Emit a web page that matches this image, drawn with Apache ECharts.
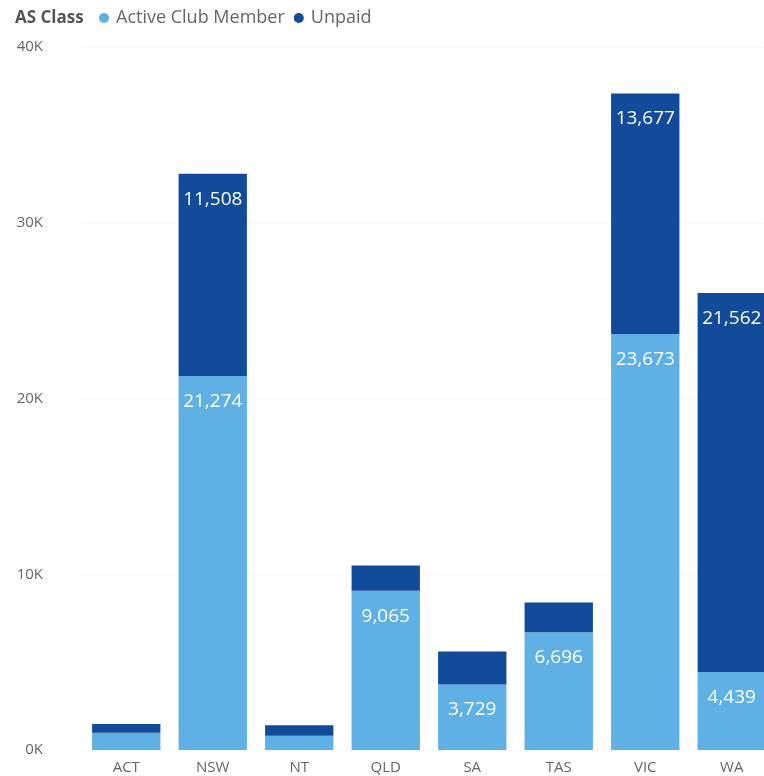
<!DOCTYPE html>
<html>
<head>
<meta charset="utf-8">
<script src="https://cdn.jsdelivr.net/npm/echarts@6/dist/echarts.min.js"></script>
<style>html,body{margin:0;padding:0;background:#fff;overflow:hidden;}#c{width:775px;height:776px;}</style>
</head>
<body>
<div id="c"></div>
<script>
const categories = ['ACT', 'NSW', 'NT', 'QLD', 'SA', 'TAS', 'VIC', 'WA'];
const activeClubMember = [985, 21274, 815, 9065, 3729, 6696, 23673, 4439];
const unpaid = [500, 11508, 590, 1435, 1870, 1700, 13677, 21562];
const yTicks = [0, 10000, 20000, 30000, 40000];

const FONT = '"Open Sans", "Noto Sans", sans-serif';
const chart = echarts.init(document.getElementById('c'));
const labelFmt = p => p.value >= 3000 ? p.value.toLocaleString('en-US') : '';
chart.setOption({
  animation: false,
  title: {
    text: 'AS Class', left: 10, top: 5,
    textStyle: { fontFamily: FONT, fontSize: 17, fontWeight: 'bold', color: '#555' }
  },
  legend: {
    left: 99, top: 9, padding: 0, icon: 'circle', itemWidth: 10, itemHeight: 10, itemGap: 9,
    textStyle: { fontFamily: FONT, fontSize: 18, color: '#666', padding: [0, 0, 0, 2] },
    data: ['Active Club Member', 'Unpaid']
  },
  grid: { left: 83, right: 0, top: 47, bottom: 26, containLabel: false },
  xAxis: {
    type: 'category', data: categories,
    axisLine: { show: false }, axisTick: { show: false },
    axisLabel: { fontFamily: FONT, fontSize: 15, color: '#666', margin: 10 }
  },
  yAxis: {
    type: 'value', min: 0, max: 40000, interval: 10000,
    axisLine: { show: false }, axisTick: { show: false },
    splitLine: { show: true, lineStyle: { color: '#f3f3f3', type: 'dotted' } },
    axisLabel: {
      fontFamily: FONT, fontSize: 15, color: '#666', margin: 40,
      customValues: yTicks,
      formatter: v => (v / 1000) + 'K'
    }
  },
  series: [
    {
      name: 'Active Club Member', type: 'bar', stack: 'total', data: activeClubMember,
      barCategoryGap: '21%',
      itemStyle: { color: '#5eb0e5' },
      label: { show: true, position: 'insideTop', distance: 16, color: '#fff', fontFamily: FONT, fontSize: 19, formatter: labelFmt }
    },
    {
      name: 'Unpaid', type: 'bar', stack: 'total', data: unpaid,
      barCategoryGap: '21%',
      itemStyle: { color: '#124b99' },
      label: { show: true, position: 'insideTop', distance: 16, color: '#fff', fontFamily: FONT, fontSize: 19, formatter: labelFmt }
    }
  ]
});
</script>
</body>
</html>
